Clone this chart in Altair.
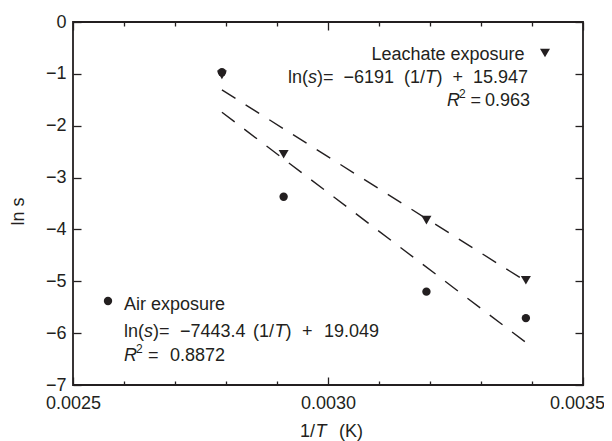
import altair as alt
import pandas as pd

INK = "#231f20"
FONT = "Liberation Sans"

# ---- measured data -------------------------------------------------------
inv_T = [0.002792, 0.002913, 0.003193, 0.003388]          # 1/T (K)
ln_s_air = [-0.97, -3.37, -5.20, -5.71]                   # air exposure
ln_s_leach = [-1.02, -2.55, -3.82, -4.98]                 # leachate exposure

fit_x = [0.002792, 0.003388]
fit_air = [-1.74, -6.18]
fit_leach = [-1.31, -5.00]

x_major = [0.0025, 0.0030, 0.0035]
x_minor = [0.0026, 0.0027, 0.0028, 0.0029, 0.0031, 0.0032, 0.0033, 0.0034]
y_ticks = [-7, -6, -5, -4, -3, -2, -1, 0]

# ---- annotation text (anchored in data coordinates) ----------------------
normal_text = ["Leachate exposure", "ln(", ")=", "\u22126191", "(1/", ")", "+", "15.947", "=", "0.963",
               "Air exposure", "ln(", ")=", "\u22127443.4", "(1/", ")", "+", "19.049", "=", "0.8872",
               "1/", "(K)"]
normal_x = [0.0030853, 0.0029216, 0.0029784, 0.0030304, 0.0031490, 0.0032127, 0.0032441, 0.0032843, 0.0032794, 0.0033078,
            0.0026000, 0.0026000, 0.0026569, 0.0027098, 0.0028529, 0.0029167, 0.0029490, 0.0029922, 0.0026471, 0.0026902,
            0.0029451, 0.0030216]
normal_y = [-0.7328, -1.1821, -1.1821, -1.1821, -1.1821, -1.1821, -1.1821, -1.1821, -1.6141, -1.6141,
            -5.5537, -6.0686, -6.0686, -6.0686, -6.0686, -6.0686, -6.0686, -6.0686, -6.5314, -6.5314,
            -8.0028, -8.0028]

italic_text = ["s", "T", "R", "s", "T", "R", "T"]
italic_x = [0.0029608, 0.0031902, 0.0032333, 0.0026392, 0.0028951, 0.0026000, 0.0029755]
italic_y = [-1.1821, -1.1821, -1.6141, -6.0686, -6.0686, -6.5314, -8.0028]

sup_text = ["2", "2"]
sup_x = [0.0032569, 0.0026235]
sup_y = [-1.4694, -6.3868]

legend_air_x = [0.0025686]
legend_air_y = [-5.3802]
legend_leach_x = [0.0034255]
legend_leach_y = [-0.5978]

# ---- tables -------------------------------------------------------------
pts = pd.DataFrame({"x": inv_T, "air": ln_s_air, "leach": ln_s_leach})
fits = pd.DataFrame({
    "x": fit_x + fit_x,
    "y": fit_air + fit_leach,
    "series": ["air"] * 2 + ["leach"] * 2,
})
normal_df = pd.DataFrame({"x": normal_x, "y": normal_y, "t": normal_text})
italic_df = pd.DataFrame({"x": italic_x, "y": italic_y, "t": italic_text})
sup_df = pd.DataFrame({"x": sup_x, "y": sup_y, "t": sup_text})
leg_air = pd.DataFrame({"x": legend_air_x, "y": legend_air_y})
leg_leach = pd.DataFrame({"x": legend_leach_x, "y": legend_leach_y})

W, H = 510, 363
xs = alt.Scale(domain=[0.0025, 0.0035], nice=False, zero=False)
ys = alt.Scale(domain=[-7, 0], nice=False, zero=False)


def tick_axis(orient, values, size, offset):
    return alt.Axis(orient=orient, offset=offset, values=values, tickSize=size,
                    tickWidth=1.3, tickColor=INK, labels=False, domain=False,
                    grid=False, title=None, ticks=True)


label_x_axis = alt.Axis(orient="bottom", values=x_major, format=".4f", ticks=False,
                        tickSize=0, domain=False, grid=False, labelPadding=9,
                        labelFlush=False, labelOverlap=False, title=None,
                        labelOffset={"condition": {"test": "datum.value > 0.00345", "value": -6},
                                     "value": 0})
label_y_axis = alt.Axis(orient="left", values=y_ticks, format="d", ticks=False,
                        tickSize=0, domain=False, grid=False, labelPadding=7,
                        labelFlush=False, labelOverlap=False, title="ln s",
                        titleX=-55, titleY=189, titleAngle=270, titleAlign="center",
                        titleBaseline="middle", titleFontWeight="normal")

lines = alt.Chart(fits).mark_line(strokeDash=[16, 12], strokeWidth=1.4, color=INK).encode(
    x=alt.X("x:Q", scale=xs, axis=label_x_axis),
    y=alt.Y("y:Q", scale=ys, axis=label_y_axis),
    detail="series:N",
)

circles = alt.Chart(pts).mark_point(shape="circle", filled=True, size=70, color=INK, opacity=1).encode(
    x=alt.X("x:Q", scale=xs, axis=tick_axis("top", x_major, 8, -H)),
    y=alt.Y("air:Q", scale=ys, axis=tick_axis("right", y_ticks, 8, -W)),
)

triangles = alt.Chart(pts).mark_point(shape="triangle-down", filled=True, size=100, color=INK, opacity=1).encode(
    x=alt.X("x:Q", scale=xs, axis=tick_axis("top", x_minor, 4, -H)),
    y=alt.Y("leach:Q", scale=ys, axis=tick_axis("left", y_ticks, 8, -W)),
)

txt_normal = alt.Chart(normal_df).mark_text(font=FONT, fontSize=18, color=INK, align="left",
                                            baseline="alphabetic").encode(
    x=alt.X("x:Q", scale=xs, axis=tick_axis("bottom", x_major, 8, -H)),
    y=alt.Y("y:Q", scale=ys, axis=None),
    text="t:N",
)

txt_italic = alt.Chart(italic_df).mark_text(font=FONT, fontSize=18, fontStyle="italic", color=INK,
                                            align="left", baseline="alphabetic").encode(
    x=alt.X("x:Q", scale=xs, axis=tick_axis("bottom", x_minor, 4, -H)),
    y=alt.Y("y:Q", scale=ys, axis=None),
    text="t:N",
)

txt_sup = alt.Chart(sup_df).mark_text(font=FONT, fontSize=12, color=INK, align="left",
                                      baseline="alphabetic").encode(
    x=alt.X("x:Q", scale=xs, axis=None),
    y=alt.Y("y:Q", scale=ys, axis=None),
    text="t:N",
)

leg_c = alt.Chart(leg_air).mark_point(shape="circle", filled=True, size=70, color=INK, opacity=1).encode(
    x=alt.X("x:Q", scale=xs, axis=None),
    y=alt.Y("y:Q", scale=ys, axis=None),
)
leg_t = alt.Chart(leg_leach).mark_point(shape="triangle-down", filled=True, size=100, color=INK, opacity=1).encode(
    x=alt.X("x:Q", scale=xs, axis=None),
    y=alt.Y("y:Q", scale=ys, axis=None),
)

chart = alt.layer(lines, circles, triangles, txt_normal, txt_italic, txt_sup, leg_c, leg_t).resolve_axis(
    x="independent", y="independent"
).properties(
    width=W, height=H,
    autosize=alt.AutoSizeParams(type="none"),
    padding={"left": 65, "top": 14, "right": 21, "bottom": 56},
).configure_view(
    stroke=INK, strokeWidth=1.8
).configure_axis(
    labelFont=FONT, labelFontSize=18, labelColor=INK,
    titleFont=FONT, titleFontSize=18, titleColor=INK,
)

chart.save("out.html", embed_options={"renderer": "svg", "actions": False})
